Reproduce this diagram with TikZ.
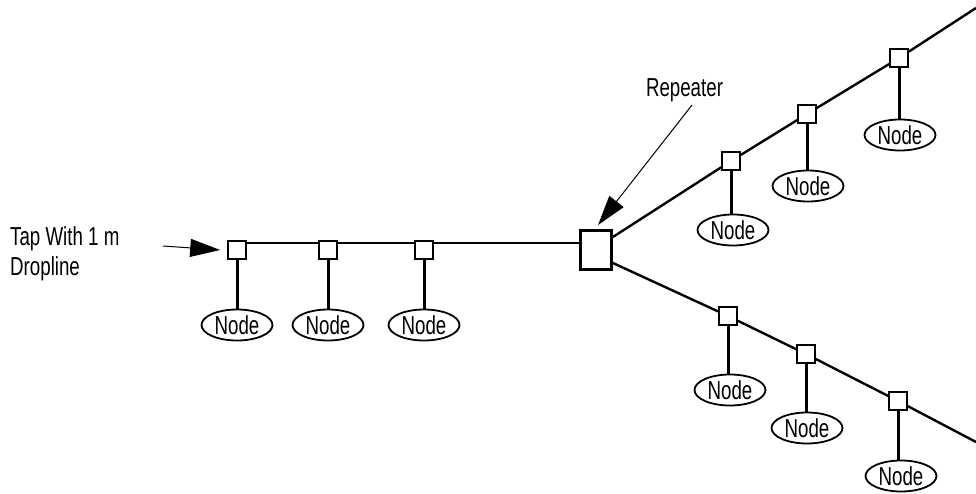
\documentclass[tikz,border=0pt]{standalone}
\usepackage{fontspec}
\setmainfont{Liberation Sans}[FakeStretch=0.72]
\usetikzlibrary{shapes.geometric,arrows.meta}
\newcommand\lblfont{\fontsize{26}{30}\selectfont}
\begin{document}
\begin{tikzpicture}[x=1pt,y=-1pt,
  tapbox/.style={draw,line width=1.6pt,fill=white,minimum width=18pt,minimum height=18pt,inner sep=0pt},
  repbox/.style={draw,line width=2.8pt,fill=white,minimum width=31pt,minimum height=39pt,inner sep=0pt},
  nodeell/.style={ellipse,draw,line width=1.8pt,fill=white,minimum width=71pt,minimum height=31pt,inner sep=0pt,font=\lblfont},
  bus/.style={line width=2.4pt},
  drop/.style={line width=3pt},
  ptr/.style={line width=1pt,-{Triangle[length=30pt,width=18pt]}},
  txt/.style={font=\lblfont,inner sep=0pt}]
\useasboundingbox (0,0) rectangle (976,494);

% labels
\node[txt,anchor=base west] (taplbl) at (10,246) {Tap With 1 m};
\node[txt,anchor=base west] (droplbl) at (10,275) {Dropline};
\node[txt,anchor=base] (replbl) at (684.5,97) {Repeater};

% repeater
\node[repbox] (rep) at (596,250) {};

% left taps and nodes
\node[tapbox] (t1) at (237,250) {};
\node[tapbox] (t2) at (328,250) {};
\node[tapbox] (t3) at (424,250) {};
\node[nodeell] (e1) at (237,325) {Node\hspace{6pt}};
\node[nodeell] (e2) at (328,325) {Node\hspace{6pt}};
\node[nodeell] (e3) at (424,325) {Node\hspace{6pt}};

% upper branch taps and nodes
\node[tapbox] (u1) at (731,161) {};
\node[tapbox] (u2) at (807,114) {};
\node[tapbox] (u3) at (899,58) {};
\node[nodeell] (e4) at (733,230) {Node\hspace{6pt}};
\node[nodeell] (e5) at (808,186) {Node\hspace{6pt}};
\node[nodeell] (e6) at (900,135) {Node\hspace{6pt}};
\coordinate (ue) at (976,8);

% lower branch taps and nodes
\node[tapbox] (l1) at (728,316) {};
\node[tapbox] (l2) at (806,354) {};
\node[tapbox] (l3) at (898,401) {};
\node[nodeell] (e7) at (730,390) {Node\hspace{6pt}};
\node[nodeell] (e8) at (807,428) {Node\hspace{6pt}};
\node[nodeell] (e9) at (901,476) {Node\hspace{6pt}};
\coordinate (le) at (976,442);

% trunk
\draw[bus] ([yshift=7pt]t1.east) -- ([yshift=7pt]t2.west);
\draw[bus] ([yshift=7pt]t2.east) -- ([yshift=7pt]t3.west);
\draw[bus] ([yshift=7pt]t3.east) -- ([yshift=7pt]rep.west);

% upper branch
\draw[bus] ([yshift=13pt]rep.east) -- (u1);
\draw[bus] (u1) -- (u2);
\draw[bus] (u2) -- (u3);
\draw[bus] (u3) -- (ue);

% lower branch
\draw[bus] ([yshift=-13pt]rep.east) -- (l1);
\draw[bus] (l1) -- (l2);
\draw[bus] (l2) -- (l3);
\draw[bus] (l3) -- (le);

% droplines
\foreach \t/\e in {t1/e1,t2/e2,t3/e3,u1/e4,u2/e5,u3/e6,l1/e7,l2/e8,l3/e9}
  \draw[drop] (\t.south) -- (\t.south |- \e.north);

% pointers
\coordinate (tapfrom) at (163,246);
\draw[ptr] (tapfrom) -- ([xshift=-7pt]t1.west);
\coordinate (repfrom) at (692,105);
\draw[ptr] (repfrom) -- ([xshift=2pt,yshift=4pt]rep.north);
\end{tikzpicture}
\end{document}
